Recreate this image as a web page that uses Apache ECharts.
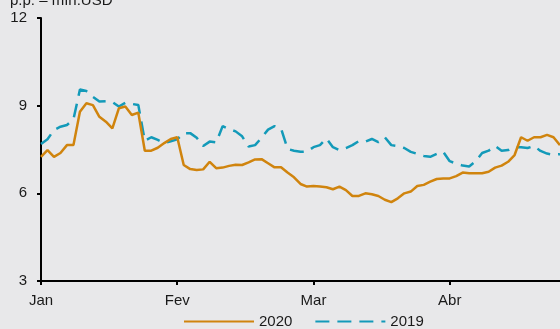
<!DOCTYPE html>
<html>
<head>
<meta charset="utf-8">
<script src="https://cdn.jsdelivr.net/npm/echarts@6/dist/echarts.min.js"></script>
<style>
  html, body { margin: 0; padding: 0; background: #e8e8ea; }
  #chart { width: 560px; height: 329px; }
</style>
</head>
<body>
<div id="chart"></div>
<script>
// Month labels and business days shown per month
var months = ['Jan', 'Fev', 'Mar', 'Abr'];
var daysPerMonth = 21;
var totalDays = 81;

// Daily series (p.p.)
var values2020 = [
  7.25, 7.48, 7.25, 7.38, 7.65, 7.65, 8.79, 9.08, 9.02, 8.62,
  8.45, 8.22, 8.91, 8.97, 8.68, 8.76, 7.46, 7.46, 7.56, 7.72,
  7.86, 7.92, 6.97, 6.83, 6.80, 6.82, 7.08, 6.86, 6.88, 6.94,
  6.98, 6.97, 7.06, 7.16, 7.17, 7.03, 6.89, 6.89, 6.71, 6.55,
  6.32, 6.23, 6.25, 6.23, 6.21, 6.14, 6.23, 6.11, 5.91, 5.91,
  6.00, 5.97, 5.91, 5.78, 5.70, 5.83, 6.00, 6.06, 6.25, 6.29,
  6.40, 6.49, 6.51, 6.51, 6.59, 6.71, 6.69, 6.69, 6.69, 6.74,
  6.88, 6.95, 7.08, 7.31, 7.92, 7.80, 7.92, 7.92, 8.00, 7.92,
  7.65
];
var values2019 = [
  7.69, 7.85, 8.17, 8.28, 8.34, 8.53, 9.55, 9.50, 9.30, 9.14,
  9.15, 9.12, 8.97, 9.10, 9.06, 9.02, 7.80, 7.92, 7.83, 7.72,
  7.78, 7.85, 8.06, 8.06, 7.90, 7.62, 7.77, 7.74, 8.30, 8.20,
  8.12, 7.95, 7.60, 7.65, 7.90, 8.18, 8.30, 8.22, 7.52, 7.46,
  7.42, 7.43, 7.58, 7.65, 7.88, 7.58, 7.48, 7.55, 7.65, 7.79,
  7.77, 7.86, 7.75, 7.92, 7.65, 7.62, 7.55, 7.42, 7.35, 7.28,
  7.25, 7.35, 7.42, 7.10, 7.02, 6.95, 6.92, 7.10, 7.38, 7.46,
  7.62, 7.46, 7.48, 7.58, 7.58, 7.55, 7.62, 7.45, 7.36, 7.32,
  7.34
];
var yTicks = [3, 6, 9, 12];

// One category per business day; the first day of each month carries its name
var categories = [];
for (var i = 0; i < totalDays; i++) {
  var m = Math.min(Math.floor(i / daysPerMonth), months.length - 1);
  var d = i % daysPerMonth;
  categories.push(d === 0 ? months[m] : months[m] + ' ' + (d + 1));
}
function isMonthStart(index) { return index % daysPerMonth === 0; }

var font = 'Liberation Sans, Arial, sans-serif';
var ink = '#1a1a1a';

var chart = echarts.init(document.getElementById('chart'), null, { renderer: 'canvas' });
chart.setOption({
  backgroundColor: '#e8e8ea',
  animation: false,
  title: {
    text: 'p.p. – mín.USD',
    left: 5,
    top: -12,
    textStyle: { fontFamily: font, fontSize: 15, fontWeight: 'normal', color: ink }
  },
  grid: { left: 41, right: 0, top: 18, bottom: 48, containLabel: false },
  legend: {
    top: 309,
    left: 178,
    itemWidth: 70,
    itemHeight: 14,
    itemGap: 22,
    itemStyle: { opacity: 0 },
    textStyle: { fontFamily: font, fontSize: 15, color: ink },
    data: ['2020', '2019']
  },
  xAxis: {
    type: 'category',
    data: categories,
    boundaryGap: false,
    axisLine: { lineStyle: { color: '#000', width: 2 } },
    axisTick: { interval: isMonthStart, length: 4, lineStyle: { color: '#000', width: 2 } },
    axisLabel: {
      interval: isMonthStart,
      formatter: function (v, idx) { return months[Math.floor(idx / daysPerMonth)]; },
      margin: 12,
      fontFamily: font, fontSize: 15, color: ink
    },
    splitLine: { show: false }
  },
  yAxis: {
    type: 'value',
    min: yTicks[0],
    max: yTicks[yTicks.length - 1],
    interval: 3,
    axisLine: { show: true, lineStyle: { color: '#000', width: 2 } },
    axisTick: { show: true, length: 4, lineStyle: { color: '#000', width: 2 } },
    axisLabel: { margin: 14, fontFamily: font, fontSize: 15, color: ink },
    splitLine: { show: false }
  },
  series: [
    {
      name: '2020',
      type: 'line',
      data: values2020,
      symbol: 'none',
      lineStyle: { color: '#d0840e', width: 2.5 },
      itemStyle: { color: '#d0840e' },
      z: 3
    },
    {
      name: '2019',
      type: 'line',
      data: values2019,
      symbol: 'none',
      lineStyle: { color: '#139ab9', width: 2.5, type: [14, 8] },
      itemStyle: { color: '#139ab9' },
      z: 2
    }
  ]
});
</script>
</body>
</html>
